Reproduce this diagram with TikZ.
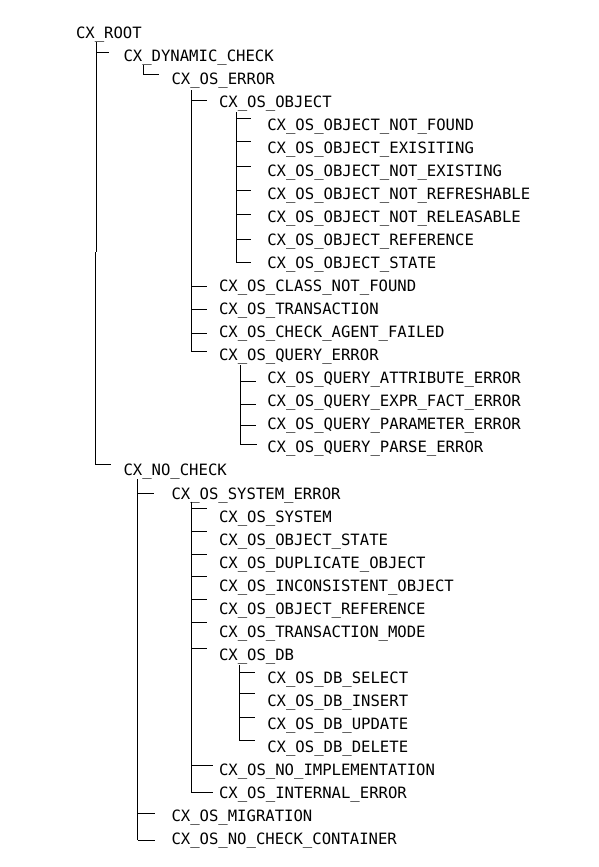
\documentclass[tikz,border=0pt]{standalone}
\usepackage{fontspec}
\setmonofont{DejaVu Sans Mono}
\begin{document}
\begin{tikzpicture}[x=1pt,y=-1pt,
  lbl/.style={font=\ttfamily\fontsize{15.6pt}{18pt}\selectfont, anchor=base west, inner sep=0pt, outer sep=0pt, text=black},
  tree/.style={draw=black, line width=0.9pt, line cap=butt}]
\useasboundingbox[fill=white] (0,0) rectangle (598,867);
\newcommand{\lab}[4]{\node[lbl] (#1) at (#2-1, {38.2+23.04*#3}) {#4};}
\newcommand{\br}[4]{\coordinate (#1-a) at (#2,#3); \coordinate (#1-b) at (#4,#3); \draw[tree] (#1-a) -- (#1-b);}
\newcommand{\vl}[4]{\coordinate (#1-t) at (#2,#3); \coordinate (#1-e) at (#2,#4); \draw[tree] (#1-t) -- (#1-e);}
% labels
\lab{root}{77}{0}{CX\_ROOT}
\lab{dyn}{124.5}{1}{CX\_DYNAMIC\_CHECK}
\lab{oserr}{172.5}{2}{CX\_OS\_ERROR}
\lab{obj}{220}{3}{CX\_OS\_OBJECT}
\lab{onf}{268.3}{4}{CX\_OS\_OBJECT\_NOT\_FOUND}
\lab{oex}{268.3}{5}{CX\_OS\_OBJECT\_EXISITING}
\lab{one}{268.3}{6}{CX\_OS\_OBJECT\_NOT\_EXISTING}
\lab{onr}{268.3}{7}{CX\_OS\_OBJECT\_NOT\_REFRESHABLE}
\lab{onl}{268.3}{8}{CX\_OS\_OBJECT\_NOT\_RELEASABLE}
\lab{oref}{268.3}{9}{CX\_OS\_OBJECT\_REFERENCE}
\lab{ost}{268.3}{10}{CX\_OS\_OBJECT\_STATE}
\lab{cnf}{220}{11}{CX\_OS\_CLASS\_NOT\_FOUND}
\lab{tra}{220}{12}{CX\_OS\_TRANSACTION}
\lab{caf}{220}{13}{CX\_OS\_CHECK\_AGENT\_FAILED}
\lab{qerr}{220}{14}{CX\_OS\_QUERY\_ERROR}
\lab{qatt}{268.3}{15}{CX\_OS\_QUERY\_ATTRIBUTE\_ERROR}
\lab{qexp}{268.3}{16}{CX\_OS\_QUERY\_EXPR\_FACT\_ERROR}
\lab{qpar}{268.3}{17}{CX\_OS\_QUERY\_PARAMETER\_ERROR}
\lab{qprs}{268.3}{18}{CX\_OS\_QUERY\_PARSE\_ERROR}
\lab{noch}{124.5}{19}{CX\_NO\_CHECK}
\lab{syserr}{172.5}{20}{CX\_OS\_SYSTEM\_ERROR}
\lab{sys}{220}{21}{CX\_OS\_SYSTEM}
\lab{sost}{220}{22}{CX\_OS\_OBJECT\_STATE}
\lab{dup}{220}{23}{CX\_OS\_DUPLICATE\_OBJECT}
\lab{inc}{220}{24}{CX\_OS\_INCONSISTENT\_OBJECT}
\lab{sref}{220}{25}{CX\_OS\_OBJECT\_REFERENCE}
\lab{tmode}{220}{26}{CX\_OS\_TRANSACTION\_MODE}
\lab{db}{220}{27}{CX\_OS\_DB}
\lab{dbs}{268.3}{28}{CX\_OS\_DB\_SELECT}
\lab{dbi}{268.3}{29}{CX\_OS\_DB\_INSERT}
\lab{dbu}{268.3}{30}{CX\_OS\_DB\_UPDATE}
\lab{dbd}{268.3}{31}{CX\_OS\_DB\_DELETE}
\lab{noimp}{220}{32}{CX\_OS\_NO\_IMPLEMENTATION}
\lab{interr}{220}{33}{CX\_OS\_INTERNAL\_ERROR}
\lab{mig}{172.5}{34}{CX\_OS\_MIGRATION}
\lab{ncc}{172.5}{35}{CX\_OS\_NO\_CHECK\_CONTAINER}
% verticals
\vl{vroot1}{96.7}{42}{252}
\vl{vroot2}{95.7}{252}{464.5}
\vl{vdyn}{143.3}{65}{74.5}
\vl{voserr}{191}{90}{351}
\vl{vobj}{236}{112}{262}
\vl{vq}{240}{365}{444.3}
\vl{vnoch}{137.7}{479.3}{840}
\vl{vsys}{191}{501.7}{792.7}
\vl{vdb}{239.3}{665}{740}
% branches
\br{bdyn}{96.7}{52}{109}
\br{boserr}{143.3}{74.5}{159}
\br{bobj}{191}{100}{206.5}
\br{bonf}{236}{118}{251}
\br{boex}{236}{141.5}{251}
\br{bone}{236}{166.5}{251}
\br{bonr}{236}{190}{251}
\br{bonl}{236}{214}{251}
\br{boref}{236}{239}{251}
\br{bost}{236}{262}{251}
\br{bcnf}{191}{286}{206.7}
\br{btra}{191}{309.5}{206.7}
\br{bcaf}{191}{333}{206.7}
\br{bqerr}{191}{351}{206.7}
\br{bqatt}{240}{381}{256}
\br{bqexp}{240}{404}{256}
\br{bqpar}{240}{425.5}{256}
\br{bqprs}{240}{444.3}{256.7}
\br{bnoch}{95.7}{464.5}{111}
\br{bsyserr}{137.7}{493.3}{154}
\br{bsys}{191}{508.3}{206.7}
\br{bsost}{191}{531.7}{206.7}
\br{bdup}{191}{554}{206.7}
\br{binc}{191}{576.5}{206.7}
\br{bsref}{191}{599}{206.7}
\br{btmode}{191}{622}{206.7}
\br{bdb}{191}{648}{206.7}
\br{bdbs}{239.3}{672.3}{255}
\br{bdbi}{239.3}{693}{255}
\br{bdbu}{239.3}{717.3}{255}
\br{bdbd}{239.3}{740}{255}
\br{bnoimp}{191}{765.7}{212.7}
\br{binterr}{191}{792.7}{212.7}
\br{bmig}{137.7}{813.3}{155}
\br{bncc}{137.7}{840}{155}
\end{tikzpicture}
\end{document}
